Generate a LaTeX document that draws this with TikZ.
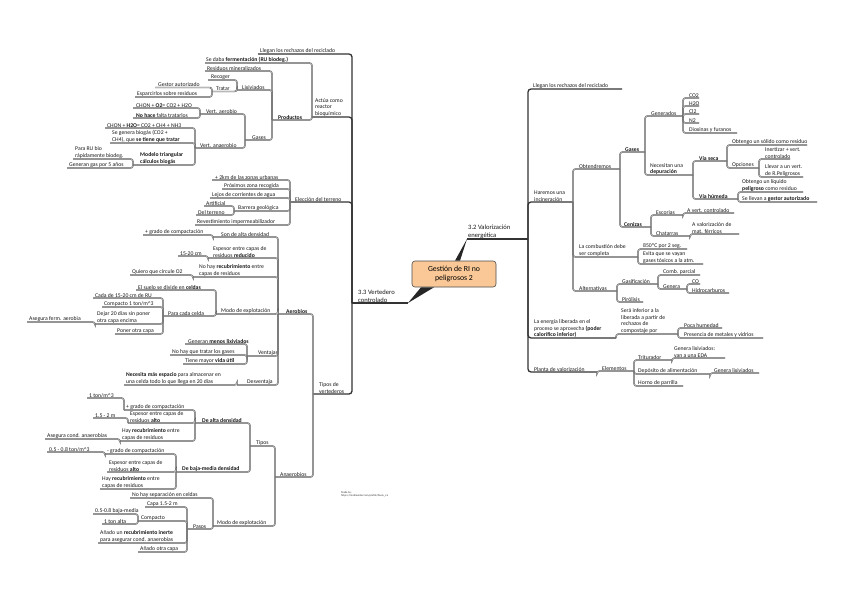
\documentclass[tikz,border=0pt]{standalone}
\usepackage{fontspec}
\setmainfont{Carlito}
\begin{document}
\begin{tikzpicture}[x=1pt,y=-1pt,
  txt/.style={font=\fontsize{5.7}{6.5}\selectfont, inner xsep=0pt, inner ysep=0.4pt, align=left, text=black!90},
  big/.style={font=\fontsize{6.6}{7.6}\selectfont, inner xsep=0pt, inner ysep=0.5pt, align=left, text=black!90},
  br/.style={draw=black!75, double=black!28, double distance=0.75pt, line width=0.3pt, rounded corners=2.5pt},
  main/.style={draw=black!80, line width=1.3pt, rounded corners=3pt},
  root/.style={draw=black!70, fill={rgb,255:red,250;green,200;blue,150}, rounded corners=3pt, minimum width=84pt, minimum height=26pt, align=center, font=\fontsize{7.8}{9.2}\selectfont, line width=0.6pt}]
\newcommand\LN[7][br]{%
  \node[txt,anchor=south west] (#2) at (#5,#6) {#7};
  \coordinate (#2L) at (#4,#6);
  \draw[#1] (#3L) -- (#3L |- #2L) -- (#2L);}
\newcommand\RN[7][br]{%
  \node[txt,anchor=south west] (#2) at (#4,#5) {#7};
  \coordinate (#2R) at (#6,#5);
  \draw[#1] (#3R) -- (#3R |- #2R) -- (#2R);}
\fill[white] (0,0) rectangle (848,599);
\useasboundingbox (0,0) rectangle (848,599);
% root
\node[root] (c) at (454,274) {Gestión de RI no\\peligrosos 2};
% main branches
\node[big,anchor=south west] (v32) at (468,239) {3.2 Valorización\\energética};
\coordinate (v32L) at (467,239);
\coordinate (v32R) at (528,239);
\draw[main] (v32L) -- (v32R);
\fill[black!85] ([xshift=1pt]c.north) -- ([xshift=6pt]c.north) -- (v32L) -- cycle;
\node[big,anchor=south west] (v33) at (358,303) {3.3 Vertedero\\controlado};
\coordinate (v33L) at (352,303);
\coordinate (v33R) at (408,303);
\draw[main] (v33L) -- (v33R);
\fill[black!85] ([xshift=-33pt]c.south) -- ([xshift=-20pt]c.south) -- (v33R) -- cycle;
% ===== left side =====
\LN[main]{lleg}{v33}{258}{260}{54}{Llegan los rechazos del reciclado}
\LN[main]{actua}{v33}{312}{315}{117}{Actúa como\\reactor\\bioquímico}
\LN[main]{elec}{v33}{290}{295}{202}{Elección del terreno}
\LN[main]{tipos}{v33}{313}{319}{394}{Tipos de\\vertederos}
\LN{ferm}{actua}{205}{206}{63}{Se daba \textbf{fermentación (RU biodeg.)}}
\LN{prod}{actua}{272}{278}{120}{\textbf{Productos}}
\LN{resid}{prod}{205}{207}{71}{Residuos mineralizados}
\LN{lixi}{prod}{237}{242}{90}{Lixiviados}
\LN{gases}{prod}{245}{252}{140}{Gases}
\LN{recog}{lixi}{208}{211}{80}{Recoger}
\LN{tratar}{lixi}{212}{216}{91.5}{Tratar}
\LN{gestor}{tratar}{155}{158}{87.5}{Gestor autorizado}
\LN{espar}{tratar}{135}{137}{97}{Esparcirlos sobre residuos}
\LN{vaer}{gases}{200}{206}{114}{Vert. aerobio}
\LN{vanaer}{gases}{195}{200}{148}{Vert. anaerobio}
\LN{chonA}{vaer}{133}{136}{108}{CHON + \textbf{O2}= CO2 + H2O}
\LN{nohace}{vaer}{133}{136}{118}{\textbf{No hace} falta tratarlos}
\LN{chonB}{vanaer}{105}{107}{128}{CHON + \textbf{H2O}= CO2 + CH4 + NH3}
\LN{segen}{vanaer}{110}{112}{143}{Se genera biogás (CO2 +\\CH4), que \textbf{se tiene que tratar}}
\LN{modelo}{vanaer}{133}{140}{165}{\textbf{Modelo triangular}\\\textbf{cálculos biogás}}
\LN{parau}{modelo}{73}{75}{159}{Para RU bio\\rápidamente biodeg.}
\LN{generacinco}{modelo}{67}{69}{168}{Generan gas por 5 años}
\LN{km}{elec}{212}{215}{180}{+ 2km de las zonas urbanas}
\LN{prox}{elec}{222}{224}{189}{Próximos zona recogida}
\LN{lejos}{elec}{210}{212}{198}{Lejos de corrientes de agua}
\LN{barrera}{elec}{234}{238}{211}{Barrera geológica}
\LN{revest}{elec}{195}{197}{225}{Revestimiento impermeabilizador}
\LN{artif}{barrera}{204}{206}{206}{Artificial}
\LN{delter}{barrera}{196}{198}{215}{Del terreno}
\LN{aero}{tipos}{278}{286}{314}{\textbf{Aerobios}}
\LN{anaero}{tipos}{275}{280}{477}{Anaerobios}
\LN{sonalta}{aero}{213}{221}{237}{Son de alta densidad}
\LN{espesorA}{aero}{208}{213}{258}{Espesor entre capas de\\residuos \textbf{reducido}}
\LN{nohayA}{aero}{193}{199}{277}{No hay \textbf{recubrimiento} entre\\capas de residuos}
\LN{modoA}{aero}{216}{221}{314}{Modo de explotación}
\LN{ventajas}{aero}{247}{258}{356}{Ventajas}
\LN{desv}{aero}{237}{247}{385}{Desventaja}
\LN{gradoA}{sonalta}{143}{145}{235}{+ grado de compactación}
\LN{cmA}{espesorA}{178}{180}{256}{15-20 cm}
\LN{quiero}{nohayA}{130}{132}{275}{Quiero que circule O2}
\LN{suelo}{modoA}{136}{138}{290}{El suelo se divide en \textbf{celdas}}
\LN{paracada}{modoA}{163}{168}{316}{Para cada celda}
\LN{cada}{paracada}{93}{95}{298}{Cada de 15-20 cm de RU}
\LN{compactoA}{paracada}{102}{104}{307}{Compacto 1 ton/m\textasciicircum3}
\LN{dejar}{paracada}{95}{97}{324}{Dejar 20 días sin poner\\otra capa encima}
\LN{poner}{paracada}{115}{117}{334}{Poner otra capa}
\LN{aseguraA}{dejar}{27}{29}{322}{Asegura ferm. aerobia}
\LN{generan}{ventajas}{185}{188}{344}{Generan \textbf{menos lixiviados}}
\LN{notratar}{ventajas}{170}{172}{355}{No hay que tratar los gases}
\LN{vida}{ventajas}{183}{185}{364}{Tiene mayor \textbf{vida útil}}
\LN{necesita}{desv}{124}{126}{385}{\textbf{Necesita más espacio} para almacenar en\\una celda todo lo que llega en 20 días}
\LN{tiposB}{anaero}{250}{256}{446}{Tipos}
\LN{modoB}{anaero}{213}{217}{526}{Modo de explotación}
\LN{alta}{tiposB}{195}{202}{423}{\textbf{De alta densidad}}
\LN{baja}{tiposB}{176}{182}{472}{\textbf{De baja-media densidad}}
\LN{gradoB}{alta}{124}{126}{410}{+ grado de compactación}
\LN{espesorB}{alta}{128}{130}{423}{Espesor entre capas de\\residuos \textbf{alto}}
\LN{hayB}{alta}{120}{122}{441}{Hay \textbf{recubrimiento} entre\\capas de residuos}
\LN{tonA}{gradoB}{87}{89}{398}{1 ton/m\textasciicircum3}
\LN{mB}{espesorB}{93}{95}{418}{1.5 - 2 m}
\LN{aseguraB}{hayB}{45}{47}{439}{Asegura cond. anaerobias}
\LN{gradoC}{baja}{105}{107}{454}{- grado de compactación}
\LN{espesorC}{baja}{107}{109}{472}{Espesor entre capas de\\residuos \textbf{alto}}
\LN{hayC}{baja}{100}{102}{489}{Hay \textbf{recubrimiento} entre\\capas de residuos}
\LN{tonB}{gradoC}{47}{49}{452}{0.5 - 0.8 ton/m\textasciicircum3}
\LN{nosep}{modoB}{130}{132}{498}{No hay separación en celdas}
\LN{pasos}{modoB}{187}{193}{529}{Pasos}
\LN{capa}{pasos}{145}{147}{507}{Capa 1.5-2 m}
\LN{compactoB}{pasos}{138}{141}{521}{Compacto}
\LN{anadoA}{pasos}{98}{100}{543}{Añado un \textbf{recubrimiento inerte}\\para asegurar cond. anaerobias}
\LN{anadoB}{pasos}{138}{140}{552}{Añado otra capa}
\LN{bajamedia}{compactoB}{93}{95}{514}{0.5-0.8 baja-media}
\LN{tonC}{compactoB}{102}{104}{524}{1 ton alta}
% ===== right side =====
\RN[main]{llegB}{v32}{533}{89}{622}{Llegan los rechazos del reciclado}
\RN[main]{inci}{v32}{534}{202}{573}{Haremos una\\incineración}
\RN[main]{energia}{v32}{534}{338}{616}{La energía liberada en el\\proceso se aprovecha \textbf{(poder}\\\textbf{calorífico inferior)}}
\RN[main]{planta}{v32}{534}{372}{597}{Planta de valorización}
\RN{obt}{inci}{579}{169}{620}{Obtendremos}
\RN{comb}{inci}{579}{257}{638}{La combustión debe\\ser completa}
\RN{alt}{inci}{579}{291}{617}{Alternativas}
\RN{gasesB}{obt}{625}{152}{645}{\textbf{Gases}}
\RN{cenizas}{obt}{624}{227}{651}{\textbf{Cenizas}}
\RN{genr}{gasesB}{651}{116}{683}{Generados}
\RN{necdep}{gasesB}{650}{175}{693}{Necesitan una\\\textbf{depuración}}
\RN{cotwo}{genr}{689}{98}{699}{CO2}
\RN{htwoo}{genr}{689}{106}{699}{H2O}
\RN{cltwo}{genr}{689}{114}{699}{Cl2}
\RN{ntwo}{genr}{689}{123}{699}{N2}
\RN{diox}{genr}{689}{133}{737}{Dioxinas y furanos}
\RN{viaseca}{necdep}{699}{161}{727}{\textbf{Vía seca}}
\RN{viahum}{necdep}{699}{199}{738}{\textbf{Vía húmeda}}
\RN{solido}{viaseca}{732}{145}{807}{Obtengo un sólido como residuo}
\RN{opciones}{viaseca}{732}{168}{759}{Opciones}
\RN{inert}{opciones}{765}{159}{790}{Inertizar + vert.\\controlado}
\RN{llevar}{opciones}{765}{177}{803}{Llevar a un vert.\\de R.Peligrosos}
\RN{liquido}{viahum}{742}{192}{803}{Obtengo un líquido\\\textbf{peligroso} como residuo}
\RN{gestorB}{viahum}{742}{202}{817}{Se llevan a \textbf{gestor autorizado}}
\RN{escorias}{cenizas}{656}{215}{683}{Escorias}
\RN{chatarras}{cenizas}{656}{236}{690}{Chatarras}
\RN{avert}{escorias}{687}{213}{734}{A vert. controlado}
\RN{aval}{chatarras}{692}{234}{739}{A valorización de\\mat. férricos}
\RN{cinco}{comb}{643}{249}{687}{850ºC por 2 seg.}
\RN{evita}{comb}{643}{264}{703}{Evita que se vayan\\gases tóxicos a la atm.}
\RN{gasif}{alt}{622}{284}{658}{Gasificación}
\RN{piro}{alt}{622}{302}{643}{Pirólisis}
\RN{combp}{gasif}{663}{275}{700}{Comb. parcial}
\RN{genera}{gasif}{663}{289}{687}{Genera}
\RN{co}{genera}{692}{284}{700}{CO}
\RN{hidro}{genera}{692}{293}{729}{Hidrocarburos}
\RN{sera}{energia}{621}{334}{678}{Será inferior a la\\liberada a partir de\\rechazos de\\compostaje por}
\RN{poca}{sera}{684}{328}{722}{Poca humedad}
\RN{presencia}{sera}{684}{338}{763}{Presencia de metales y vidrios}
\RN{elem}{planta}{602}{371}{634}{Elementos}
\RN{trit}{elem}{638}{360}{672}{Triturador}
\RN{depos}{elem}{638}{374}{710}{Depósito de alimentación}
\RN{horno}{elem}{638}{386}{683}{Horno de parrilla}
\RN{genlixA}{trit}{674}{358}{725}{Genera lixiviados:\\van a una EDA}
\RN{genlixB}{depos}{714}{373}{759}{Genera lixiviados}
% credit
\node[font=\fontsize{2.7}{3.4}\selectfont, anchor=north west, align=left, inner sep=0pt, text=black!80] (made) at (341,491) {Made by:\\https://mindmeister.com/profile/Paula\_c.k};
\end{tikzpicture}
\end{document}
